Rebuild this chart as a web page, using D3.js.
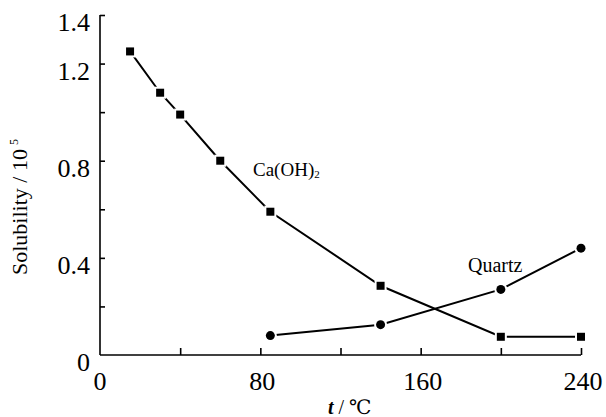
<!DOCTYPE html>
<html>
<head>
<meta charset="utf-8">
<script src="https://cdn.jsdelivr.net/npm/d3@7"></script>
<style>
  html, body { margin: 0; padding: 0; background: #fff; }
  svg { display: block; }
</style>
</head>
<body>
<svg id="chart" width="606" height="417"></svg>
<script>
// ---- data ----
const caohT = [15, 30, 40, 60, 85, 140, 200, 240];
const caohS = [1.25, 1.08, 0.99, 0.80, 0.59, 0.285, 0.075, 0.075];
const quartzT = [85, 140, 200, 240];
const quartzS = [0.08, 0.125, 0.27, 0.44];
const xTicks = [40, 80, 120, 160, 200, 240];
const xTickLabels = [0, 80, 160, 240];
const yTicks = [0.2, 0.4, 0.6, 0.8, 1.0, 1.2, 1.4];
const yTickLabels = ["0", "0.4", "0.8", "1.2", "1.4"];
const yTickLabelValues = [0, 0.4, 0.8, 1.2, 1.4];

const FONT = "'Liberation Serif', Tinos, 'Times New Roman', 'Nimbus Roman', 'DejaVu Serif', serif";

const svg = d3.select("#chart").attr("font-family", FONT);
const x = d3.scaleLinear().domain([0, 240]).range([100, 581]);
const y = d3.scaleLinear().domain([0, 1.4]).range([355, 15]);

// axes lines with inward ticks
const xAxis = d3.axisTop(x).tickValues(xTicks).tickSize(7).tickFormat("");
const gx = svg.append("g").attr("transform", `translate(0,${y(0)})`).call(xAxis);
gx.attr("font-family", null);
gx.select(".domain").attr("d", `M${x(0)},0H${x(240)}`);
gx.selectAll("line,path").attr("stroke", "#000").attr("stroke-width", 1.6);

const yAxis = d3.axisRight(y).tickValues(yTicks).tickSize(5).tickFormat("");
const gy = svg.append("g").attr("transform", `translate(${x(0)},0)`).call(yAxis);
gy.attr("font-family", null);
gy.select(".domain").attr("d", `M0,${y(1.4)}V${y(0)}`);
gy.selectAll("line,path").attr("stroke", "#000").attr("stroke-width", 1.6);

// tick labels
svg.append("g").selectAll("text").data(xTickLabels).join("text")
  .attr("font-family", FONT)
  .attr("x", d => x(d) + (d === 0 ? 0 : 2)).attr("y", 390)
  .attr("text-anchor", "middle").attr("font-size", 26)
  .text(d => d);

svg.append("g").selectAll("text").data(yTickLabelValues).join("text")
  .attr("font-family", FONT)
  .attr("x", 90).attr("y", d => y(d) + 16)
  .attr("text-anchor", "end").attr("font-size", 26)
  .text((d, i) => yTickLabels[i]);

// axis titles
const xt = svg.append("text").attr("font-family", FONT).attr("x", 328).attr("y", 414).attr("font-size", 20);
xt.append("tspan").attr("font-style", "italic").attr("font-weight", "bold").text("t");
xt.append("tspan").text(" / ℃");

const yt = svg.append("text").attr("font-family", FONT)
  .attr("transform", "translate(27,275) rotate(-90)")
  .attr("font-size", 22);
yt.append("tspan").text("Solubility / 10");
yt.append("tspan").attr("dx", 4).attr("dy", -9).attr("font-size", 12).text("5");

// lines
const line = d3.line().x(d => x(d[0])).y(d => y(d[1]));
const caoh = caohT.map((t, i) => [t, caohS[i]]);
const quartz = quartzT.map((t, i) => [t, quartzS[i]]);

svg.append("path").datum(caoh).attr("d", line)
  .attr("fill", "none").attr("stroke", "#000").attr("stroke-width", 2);
svg.append("path").datum(quartz).attr("d", line)
  .attr("fill", "none").attr("stroke", "#000").attr("stroke-width", 2);

// markers with white halo
const sq = 8;
svg.append("g").selectAll("rect").data(caoh).join("rect")
  .attr("x", d => x(d[0]) - sq / 2 - 2).attr("y", d => y(d[1]) - sq / 2 - 2)
  .attr("width", sq + 4).attr("height", sq + 4).attr("fill", "#fff");
svg.append("g").selectAll("rect").data(caoh).join("rect")
  .attr("x", d => x(d[0]) - sq / 2).attr("y", d => y(d[1]) - sq / 2)
  .attr("width", sq).attr("height", sq).attr("fill", "#000");

svg.append("g").selectAll("circle").data(quartz).join("circle")
  .attr("cx", d => x(d[0])).attr("cy", d => y(d[1])).attr("r", 6.5).attr("fill", "#fff");
svg.append("g").selectAll("circle").data(quartz).join("circle")
  .attr("cx", d => x(d[0])).attr("cy", d => y(d[1])).attr("r", 4.5).attr("fill", "#000");

// series labels
const cl = svg.append("text").attr("font-family", FONT).attr("x", 253).attr("y", 176).attr("font-size", 19);
cl.append("tspan").text("Ca(OH)");
cl.append("tspan").attr("font-size", 11).attr("dy", 2).text("2");

svg.append("text").attr("font-family", FONT).attr("x", 468).attr("y", 271.5).attr("font-size", 20).text("Quartz");
</script>
</body>
</html>
